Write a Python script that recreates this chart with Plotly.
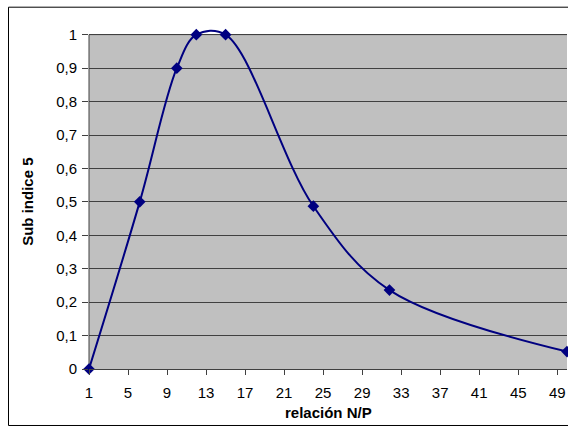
import plotly.graph_objects as go

# ---- data ----
np_ratio = [1, 6.2, 10, 12, 15, 24, 31.8, 50]
sub_index = [0, 0.5, 0.9, 1.0, 1.0, 0.487, 0.236, 0.052]
x_tick_vals = [1, 5, 9, 13, 17, 21, 25, 29, 33, 37, 41, 45, 49]
y_tick_vals = [0, 0.1, 0.2, 0.3, 0.4, 0.5, 0.6, 0.7, 0.8, 0.9, 1.0]
y_tick_text = ["0", "0,1", "0,2", "0,3", "0,4", "0,5", "0,6", "0,7", "0,8", "0,9", "1"]
x_title = "relación N/P"
y_title = "Sub indice 5"

FONT = "Liberation Sans, Arial, sans-serif"
NAVY = "#000080"
Y_TOP = 1.05            # headroom so the smoothed curve may rise above 1
TOP = 1.0 / Y_TOP       # paper position of value 1

fig = go.Figure()
fig.add_trace(go.Scatter(
    x=np_ratio, y=sub_index, mode="lines+markers",
    line=dict(color=NAVY, width=2, shape="spline", smoothing=1),
    marker=dict(symbol="diamond", size=9, color=NAVY),
    cliponaxis=False, showlegend=False,
))

fig.update_layout(
    width=568, height=427,
    margin=dict(l=89, r=1, t=18, b=58),
    paper_bgcolor="white", plot_bgcolor="white",
    font=dict(family=FONT, size=15, color="black"),
    xaxis=dict(range=[1, 50], tickvals=x_tick_vals, showgrid=False, zeroline=False,
               showline=True, linecolor="#404040", linewidth=1,
               ticks="outside", ticklen=5, tickcolor="#404040",
               ticklabelstandoff=5, tickfont=dict(size=15)),
    yaxis=dict(range=[0, Y_TOP], tickvals=y_tick_vals, ticktext=y_tick_text,
               showgrid=True, gridcolor="#404040", gridwidth=1, zeroline=False,
               showline=False,
               ticks="outside", ticklen=6, tickcolor="#404040",
               ticklabelstandoff=2, tickfont=dict(size=15)),
    shapes=[
        # plot-area fill
        dict(type="rect", xref="paper", yref="paper", x0=0, x1=1, y0=0, y1=TOP,
             line=dict(width=0), fillcolor="#C0C0C0", layer="below"),
        # outer chart border
        dict(type="rect", xref="paper", yref="paper", x0=-0.1684, x1=1.02,
             y0=-0.169 / Y_TOP, y1=1.0823 / Y_TOP,
             line=dict(color="black", width=1), fillcolor="rgba(0,0,0,0)", layer="below"),
        # plot-area top border (gray) and y axis line
        dict(type="line", xref="paper", yref="paper", x0=0, x1=1, y0=TOP, y1=TOP,
             line=dict(color="#808080", width=1), layer="between"),
        dict(type="line", xref="paper", yref="paper", x0=0, x1=0, y0=0, y1=TOP,
             line=dict(color="#404040", width=1), layer="between"),
    ],
    annotations=[
        dict(text="<b>%s</b>" % x_title, xref="paper", yref="paper", x=0.5, y=-0.1287 / Y_TOP,
             xanchor="center", yanchor="middle", showarrow=False, font=dict(size=15)),
        dict(text="<b>%s</b>" % y_title, xref="paper", yref="paper", x=-0.1276, y=0.5 / Y_TOP,
             xanchor="center", yanchor="middle", textangle=-90, showarrow=False, font=dict(size=15)),
    ],
)

fig.write_html("out.html")
